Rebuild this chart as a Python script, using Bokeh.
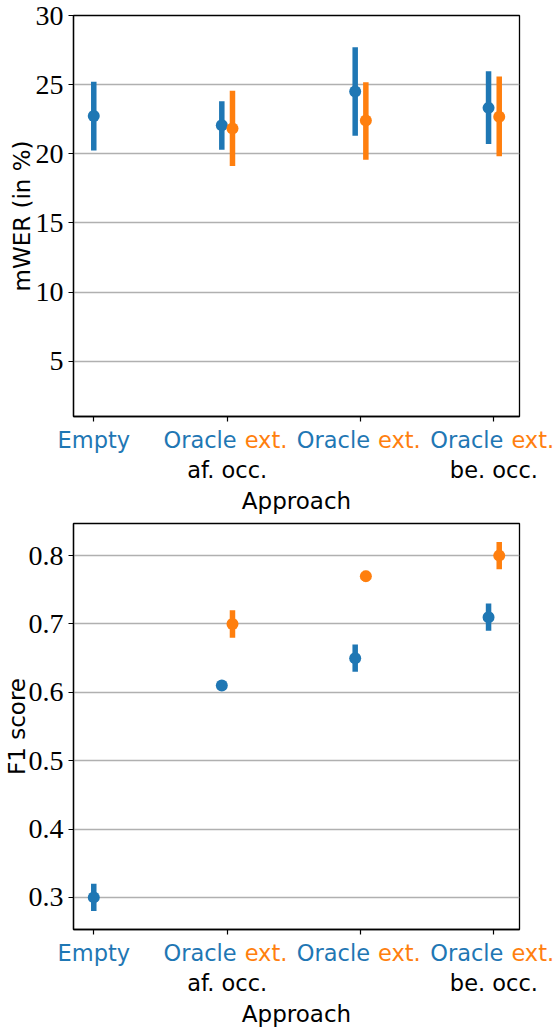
from bokeh.plotting import figure
from bokeh.models import Range1d, FixedTicker, PrintfTickFormatter
from bokeh.core.properties import value
from bokeh.embed import file_html
from bokeh.resources import INLINE

# ---------------- data ----------------
tick_main = ["Empty", "Oracle", "Oracle", "Oracle"]
tick_ext = ["", "ext.", "ext.", "ext."]
tick_sub = ["", "af. occ.", "", "be. occ."]

# blue ("Oracle"/"Empty") series per category 0..3
wer_blue = [22.73, 22.07, 24.51, 23.32]
wer_blue_lo = [20.24, 20.30, 21.30, 20.70]
wer_blue_hi = [25.20, 23.80, 27.70, 25.96]
# orange ("ext.") series for categories 1..3
wer_orange = [21.83, 22.40, 22.68]
wer_orange_lo = [19.12, 19.57, 19.82]
wer_orange_hi = [24.56, 25.18, 25.58]

f1_blue = [0.30, 0.61, 0.65, 0.71]
f1_blue_lo = [0.28, 0.605, 0.63, 0.69]
f1_blue_hi = [0.32, 0.615, 0.67, 0.73]
f1_orange = [0.70, 0.77, 0.80]
f1_orange_lo = [0.68, 0.762, 0.78]
f1_orange_hi = [0.72, 0.778, 0.82]

orange_cats = [1, 2, 3]
wer_ylim = (1, 30)
wer_ticks = [5, 10, 15, 20, 25, 30]
f1_ticks = [0.3, 0.4, 0.5, 0.6, 0.7, 0.8]

# ---------------- style / layout ----------------
BLUE = "#1f77b4"
ORANGE = "#ff7f0e"
DODGE = 0.04
SANS = "DejaVu Sans"
SERIF = "Liberation Serif"
W = 554
FRAME_LEFT = 73
FRAME_W = 446
FRAME_RIGHT_B = W - FRAME_LEFT - FRAME_W
GAP = 6          # border below each plot frame (x-axis tick marks)

blue_x = [i - (DODGE if i in orange_cats else 0.0) for i in range(len(wer_blue))]
orange_x = [c + DODGE for c in orange_cats]
all_x = blue_x + orange_x
xpad = 0.05 * (max(all_x) - min(all_x))
X0, X1 = min(all_x) - xpad, max(all_x) + xpad
DX = (X1 - X0) / FRAME_W


def place(top):
    return {"position": "absolute", "left": "0px", "top": f"{top}px"}


def panel(blue, blo, bhi, orange, olo, ohi, ylim, yticks, fmt, ylabel, lab_standoff,
          top, btop, frame_h):
    p = figure(width=W, height=btop + frame_h + GAP, x_range=Range1d(X0, X1),
               y_range=Range1d(*ylim), output_backend="svg",
               toolbar_location=None, min_border_left=FRAME_LEFT,
               min_border_right=FRAME_RIGHT_B,
               min_border_top=btop, min_border_bottom=GAP, styles=place(top))
    p.outline_line_color = "black"
    p.outline_line_width = 1.3
    p.outline_line_alpha = 1.0
    p.xgrid.visible = False
    p.ygrid.grid_line_color = "#b0b0b0"
    p.ygrid.grid_line_width = 1.3
    p.ygrid.ticker = FixedTicker(ticks=yticks)

    p.yaxis.ticker = FixedTicker(ticks=yticks)
    p.yaxis.formatter = PrintfTickFormatter(format=fmt)
    p.yaxis.major_label_text_font = SERIF
    p.yaxis.major_label_text_font_size = "28px"
    p.yaxis.major_label_text_color = "black"
    p.yaxis.major_label_standoff = 5
    p.yaxis.axis_label = ylabel
    p.yaxis.axis_label_text_font = SANS
    p.yaxis.axis_label_text_font_size = "23px"
    p.yaxis.axis_label_text_font_style = "normal"
    p.yaxis.axis_label_text_color = "black"
    p.yaxis.axis_label_standoff = lab_standoff
    for ax in (p.xaxis[0], p.yaxis[0]):
        ax.major_tick_out = 5
        ax.major_tick_in = 0
        ax.minor_tick_out = 5
        ax.minor_tick_in = 0
        ax.major_tick_line_width = 1.2
        ax.minor_tick_line_width = 1.2
        ax.major_tick_line_color = "black"
        ax.axis_line_color = "black"
        ax.axis_line_width = 1.3
    p.yaxis.minor_tick_line_color = None
    # category ticks on x: marks only (labels are drawn in the strip below)
    p.xaxis.ticker = FixedTicker(ticks=[], minor_ticks=list(range(len(tick_main))))
    p.xaxis.minor_tick_line_color = "black"

    # error bars + points
    p.segment(x0=blue_x, y0=blo, x1=blue_x, y1=bhi, line_color=BLUE, line_width=5.5)
    p.scatter(x=blue_x, y=blue, size=12, color=BLUE, line_width=0)
    p.segment(x0=orange_x, y0=olo, x1=orange_x, y1=ohi, line_color=ORANGE, line_width=5.5)
    p.scatter(x=orange_x, y=orange, size=12, color=ORANGE, line_width=0)
    return p


def label_strip(top, height):
    # transparent strip starting at a plot's frame bottom; same horizontal
    # mapping as the plot, y measured in px from the strip's top
    q = figure(width=W, height=height,
               x_range=Range1d(X0 - FRAME_LEFT * DX, X1 + FRAME_RIGHT_B * DX),
               y_range=Range1d(height, 0), output_backend="svg",
               toolbar_location=None, x_axis_location=None, y_axis_location=None,
               min_border_left=0, min_border_right=0, min_border_top=0,
               min_border_bottom=0, styles=place(top))
    q.outline_line_color = None
    q.background_fill_color = None
    q.border_fill_color = None
    q.grid.visible = False
    fs = value("22.5px")
    font = value(SANS)
    y1, y2, y3 = 23, 53, 84
    for i, (m, e, s) in enumerate(zip(tick_main, tick_ext, tick_sub)):
        if e:
            q.text(x=[i + 9.5 * DX], y=[y1], text=[m], text_color=BLUE, text_font=font,
                   text_font_size=fs, text_align="right", text_baseline="alphabetic")
            q.text(x=[i + 17.5 * DX], y=[y1], text=[e], text_color=ORANGE, text_font=font,
                   text_font_size=fs, text_align="left", text_baseline="alphabetic")
        else:
            q.text(x=[i], y=[y1], text=[m], text_color=BLUE, text_font=font,
                   text_font_size=fs, text_align="center", text_baseline="alphabetic")
        if s:
            q.text(x=[i], y=[y2], text=[s], text_color="black", text_font=font,
                   text_font_size=fs, text_align="center", text_baseline="alphabetic")
    q.text(x=[(X0 + X1) / 2], y=[y3], text=["Approach"], text_color="black",
           text_font=font, text_font_size=value("23px"), text_align="center",
           text_baseline="alphabetic")
    return q


# top panel: frame 15..416
p1 = panel(wer_blue, wer_blue_lo, wer_blue_hi, wer_orange, wer_orange_lo, wer_orange_hi,
           wer_ylim, wer_ticks, "%d", "mWER (in %)", -2, 0, 15, 401)
lab1 = label_strip(416, 100)

# bottom panel: frame 523..929
f1_all = f1_blue_lo + f1_blue_hi + f1_orange_lo + f1_orange_hi
ypad = 0.05 * (max(f1_all) - min(f1_all))
f1_ylim = (min(f1_all) - ypad, max(f1_all) + ypad)
p2 = panel(f1_blue, f1_blue_lo, f1_blue_hi, f1_orange, f1_orange_lo, f1_orange_hi,
           f1_ylim, f1_ticks, "%.1f", "F1 score", -4, 516, 7, 406)
lab2 = label_strip(929, 99)

open("out.html", "w").write(file_html([p1, p2, lab1, lab2], INLINE))
